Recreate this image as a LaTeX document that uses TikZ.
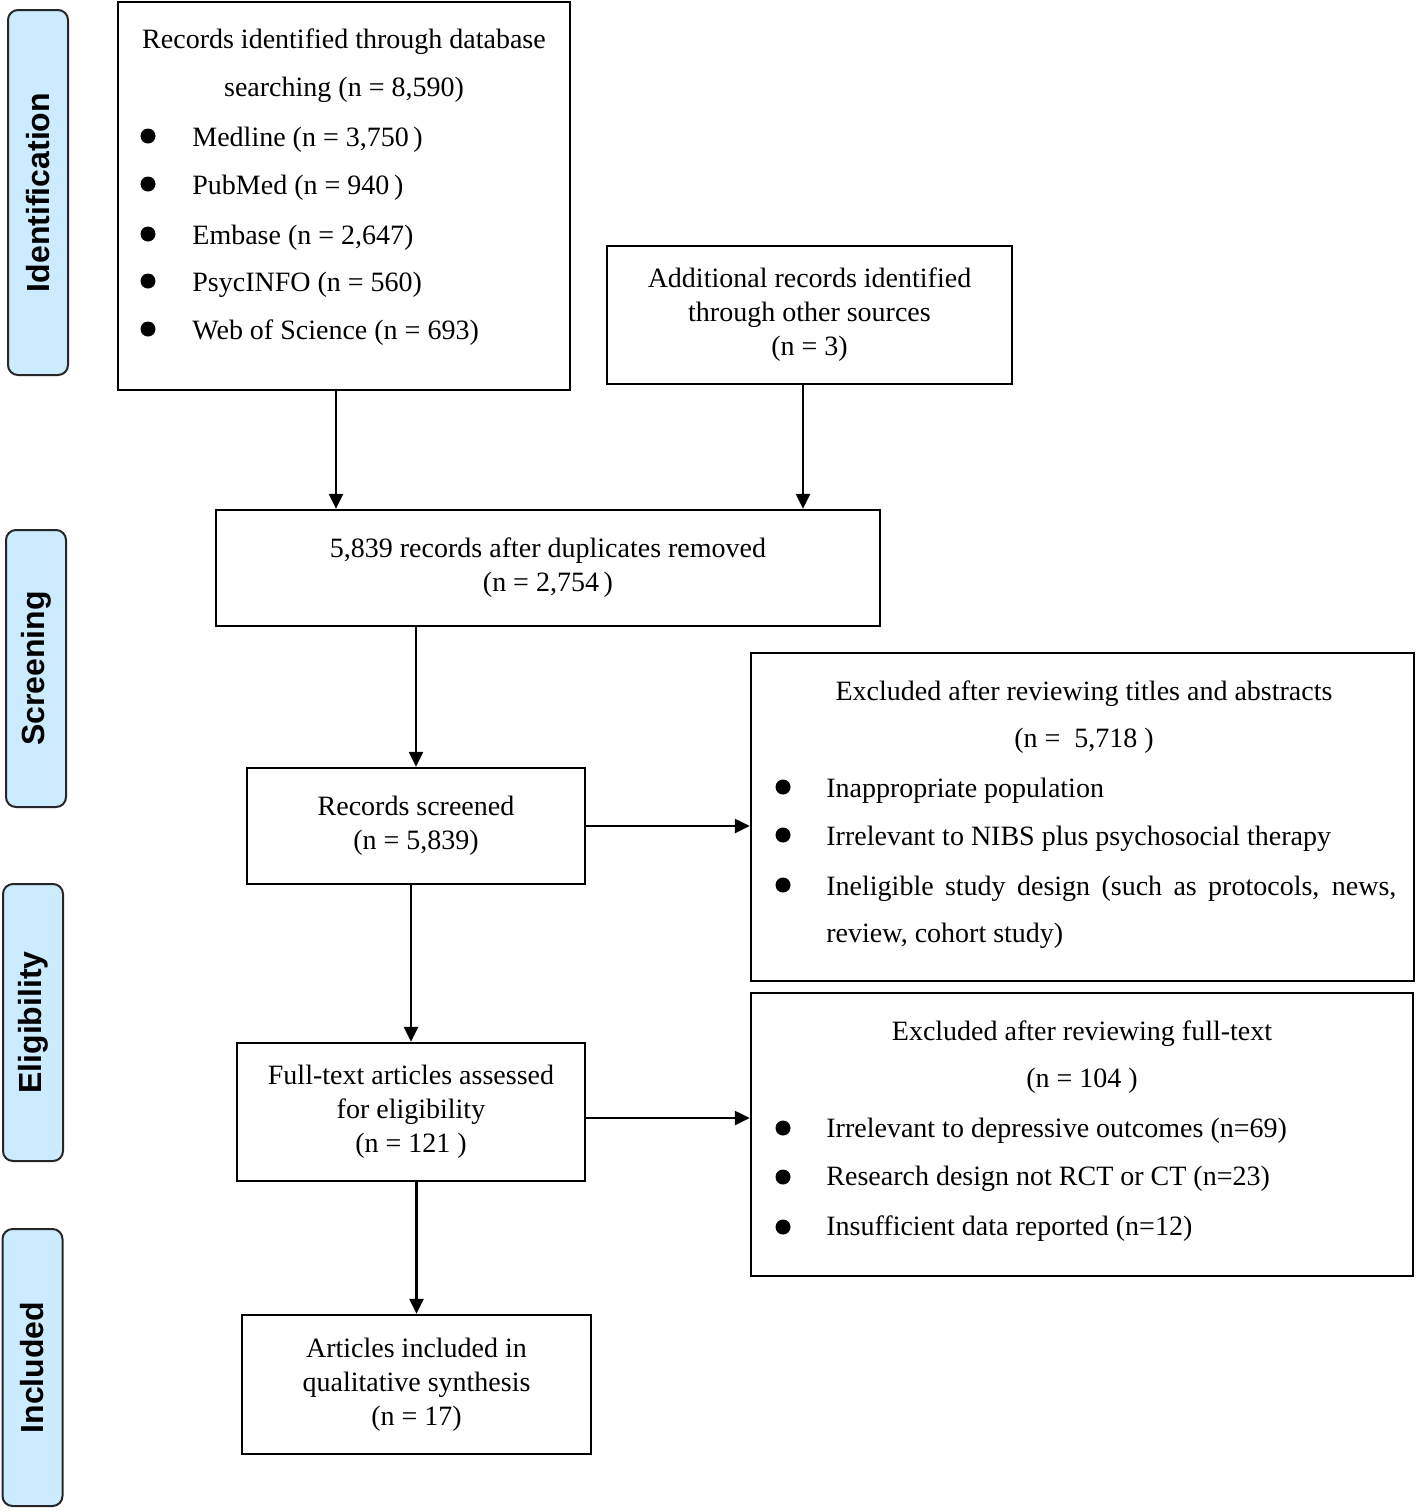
\documentclass[tikz,border=0pt]{standalone}
\usepackage{fontspec}
\setmainfont{Liberation Serif}
\newfontfamily\sidefont{Liberation Sans}
\usetikzlibrary{arrows.meta}
\definecolor{sidebg}{RGB}{204,235,255}

\begin{document}
\begin{tikzpicture}[x=0.5pt,y=-0.5pt,
  every node/.style={font=\fontsize{14}{17}\selectfont},
  box/.style={draw,line width=1.2pt,align=center,inner sep=0pt},
  side/.style={draw=black!85,line width=1pt,fill=sidebg,rounded corners=5pt,rotate=90,
    minimum height=30pt,inner sep=0pt,font=\sidefont\bfseries\fontsize{16}{18}\selectfont},
  line/.style={anchor=base,inner sep=0pt},
  item/.style={anchor=base west,inner sep=0pt},
  dot/.style={circle,fill,inner sep=0pt,minimum size=7.5pt},
  arr/.style={line width=1.2pt,-{Triangle[length=7.5pt,width=7pt]}}]
\useasboundingbox (0,0) rectangle (1416,1511);

% stage labels
\node[side,minimum width=182.5pt] (idf) at (38,192.5) {Identification};
\node[side,minimum width=138.5pt] (scr) at (36,668.5) {Screening};
\node[side,minimum width=138.5pt] (elg) at (33,1022.5) {Eligibility};
\node[side,minimum width=138.5pt] (inc) at (32.5,1367.5) {Included};

% boxes
\node[box,minimum width=226pt,minimum height=194pt] (rec) at (344,196) {};
\node[box,minimum width=202.5pt,minimum height=69pt] (add) at (809.5,315) {Additional records identified\\through other sources\\(n = 3)};
\node[box,minimum width=332pt,minimum height=58pt] (dup) at (548,568) {5,839 records after duplicates removed\\(n = 2,754\,)};
\node[box,minimum width=169pt,minimum height=58pt] (scrd) at (416,826) {Records screened\\(n = 5,839)};
\node[box,minimum width=331.5pt,minimum height=164pt] (exa) at (1082.5,817) {};
\node[box,minimum width=174pt,minimum height=69pt] (full) at (411,1112) {Full-text articles assessed\\for eligibility\\(n = 121 )};
\node[box,minimum width=331pt,minimum height=141.5pt] (exb) at (1082,1134.5) {};
\node[box,minimum width=174.5pt,minimum height=69.5pt] (incl) at (416.5,1384.5) {Articles included in\\qualitative synthesis\\(n = 17)};

% database search
\node[line] (rec1) at (344,48) {Records identified through database};
\node[line] (rec2) at (344,96) {searching (n = 8,590)};
\node[dot] (d1) at (148,136) {};
\node[item] (med) at (192,146) {Medline (n = 3,750\,)};
\node[dot] (d2) at (148,184) {};
\node[item] (pub) at (192,194) {PubMed (n = 940\,)};
\node[dot] (d3) at (148,234) {};
\node[item] (emb) at (192,244) {Embase (n = 2,647)};
\node[dot] (d4) at (148,281) {};
\node[item] (psy) at (192,291) {PsycINFO (n = 560)};
\node[dot] (d5) at (148,329) {};
\node[item] (wos) at (192,339) {Web of Science (n = 693)};

% titles and abstracts
\node[line] (exa1) at (1084,700) {Excluded after reviewing titles and abstracts};
\node[line] (exa2) at (1084,747) {(n = \ 5,718 )};
\node[dot] (e1) at (783,787) {};
\node[item] (pop) at (826,797) {Inappropriate population};
\node[dot] (e2) at (783,835) {};
\node[item] (nibs) at (826,845) {Irrelevant to NIBS plus psychosocial therapy};
\node[dot] (e3) at (783,885) {};
\node[item] (ineli) at (826,895) {\parbox[t]{285pt}{\baselineskip=23.5pt Ineligible study design (such as protocols, news,\linebreak review, cohort study)}};

% full text
\node[line] (exb1) at (1082,1040) {Excluded after reviewing full-text};
\node[line] (exb2) at (1082,1087) {(n = 104 )};
\node[dot] (f1) at (783,1128) {};
\node[item] (dep) at (826,1137) {Irrelevant to depressive outcomes (n=69)};
\node[dot] (f2) at (783,1177) {};
\node[item] (rct) at (826,1185) {Research design not RCT or CT (n=23)};
\node[dot] (f3) at (783,1227) {};
\node[item] (insuf) at (826,1235) {Insufficient data reported (n=12)};

% arrows
\draw[arr] ([xshift=-4pt]rec.south) -- ([xshift=-4pt]rec.south |- dup.north);
\draw[arr] ([xshift=-3.25pt]add.south) -- ([xshift=-3.25pt]add.south |- dup.north);
\draw[arr] (dup.south -| scrd.north) -- (scrd.north);
\draw[arr] (scrd.east) -- (scrd.east -| exa.west);
\draw[arr] (scrd.south -| full.north) -- (full.north);
\draw[arr] ([yshift=-3pt]full.east) -- ([yshift=-3pt]full.east -| exb.west);
\draw[arr] (full.south -| incl.north) -- (incl.north);
\end{tikzpicture}
\end{document}
